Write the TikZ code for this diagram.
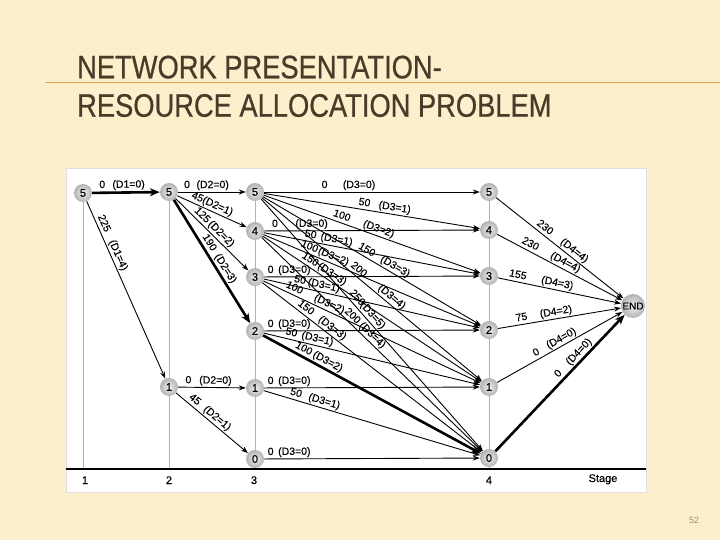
\documentclass[tikz,border=0pt]{standalone}
\usepackage{fontspec}
\setmainfont{Liberation Sans}
\newfontfamily\titlefont[FakeStretch=0.84,FakeBold=0.6]{Liberation Sans}
\newfontfamily\labfont[FakeBold=0.3]{Liberation Sans}
\usetikzlibrary{arrows.meta,shadings}
\definecolor{cream}{RGB}{252,240,204}
\definecolor{titlec}{RGB}{74,58,42}
\definecolor{rulec}{RGB}{226,168,78}
\definecolor{pagec}{RGB}{170,140,100}
\begin{document}
\begin{tikzpicture}[x=1pt,y=-1pt,
  st/.style={circle, shading=radial, inner color=gray!12, outer color=gray!60, minimum size=18pt, inner sep=0pt,
     font=\labfont\fontsize{11}{11}\selectfont},
  endst/.style={st, minimum size=24pt, font=\labfont\fontsize{10}{10}\selectfont},
  lab/.style={font=\labfont\fontsize{10.5}{10.5}\selectfont, sloped, above, inner sep=1pt,
     text height=7.5pt, text depth=2.5pt},
  ar/.style={-{Stealth[length=7pt,width=5pt]}, line width=0.9pt},
  thk/.style={-{Stealth[length=10pt,width=8pt]}, line width=2.6pt},
  guide/.style={gray!60, line width=0.5pt},
  axlab/.style={font=\labfont\fontsize{11}{11}\selectfont, anchor=base},
  ttl/.style={anchor=base west, inner sep=0pt, text=titlec, font=\titlefont\fontsize{32.5}{32.5}\selectfont}]
\useasboundingbox (0,0) rectangle (720,540);
\fill[cream] (0,0) rectangle (720,540);
% title
\draw[rulec, line width=1.3pt] (45,82.5) -- (720,82.5);
\node[ttl] (t1) at (77,78.3) {NETWORK PRESENTATION-};
\node[ttl] (t2) at (77,116.7) {RESOURCE ALLOCATION PROBLEM};
\node[font=\fontsize{9}{9}\selectfont, text=pagec] (pg) at (694,520) {52};
% panel
\fill[white] (66,168) rectangle (646,492);
\draw[gray!25, line width=0.5pt] (66,168) rectangle (646,492);
% guides
\draw[guide] (83,193) -- (83,469);
\draw[guide] (169,192) -- (169,469);
\draw[guide] (255,192) -- (255,469);
\draw[guide] (489,192) -- (489,469);
\draw[line width=1.5pt] (66,469) -- (646,469);
\node[axlab] (l1) at (85,484) {1};
\node[axlab] (l2) at (169,484) {2};
\node[axlab] (l3) at (254,484) {3};
\node[axlab] (l4) at (489,484) {4};
\node[axlab] (ls) at (603,482) {Stage};
% nodes
\node[st] (a5) at (83,193) {5};
\node[st] (b5) at (169,192) {5};
\node[st] (b1) at (169,387) {1};
\node[st] (c5) at (255,192) {5};
\node[st] (c4) at (255,231) {4};
\node[st] (c3) at (255,277) {3};
\node[st] (c2) at (255,331) {2};
\node[st] (c1) at (255,388) {1};
\node[st] (c0) at (255,459) {0};
\node[st] (d5) at (489,192) {5};
\node[st] (d4) at (489,230) {4};
\node[st] (d3) at (489,276) {3};
\node[st] (d2) at (489,330) {2};
\node[st] (d1) at (489,387) {1};
\node[st] (d0) at (489,458) {0};
\node[endst] (E) at (633,306) {END};
% stage 1
\draw[thk] (a5) -- node[lab,pos=.15]{0} node[lab,pos=.54]{(D1=0)} (b5);
\draw[ar] (a5) -- node[lab,pos=.14]{225} node[lab,pos=.32]{(D1=4)} (b1);
% stage 2
\draw[ar] (b5) -- node[lab,pos=.13]{0} node[lab,pos=.51]{(D2=0)} (c5);
\draw[ar] (b5) -- node[lab,pos=.25]{45} node[lab,pos=.54]{(D2=1)} (c4);
\draw[ar] (b5) -- node[lab,pos=.30]{125} node[lab,pos=.56]{(D2=2)} (c3);
\draw[thk] (b5) -- node[lab,pos=.38]{190} node[lab,pos=.59]{(D2=3)} (c2);
\draw[ar] (b1) -- node[lab,pos=.15]{0} node[lab,pos=.55]{(D2=0)} (c1);
\draw[ar] (b1) -- node[lab,pos=.20]{45} node[lab,pos=.51]{(D2=1)} (c0);
% stage 3 from 5
\draw[ar] (c5) -- node[lab,pos=.28]{0} node[lab,pos=.44]{(D3=0)} (d5);
\draw[ar] (c5) -- node[lab,pos=.46]{50} node[lab,pos=.60]{(D3=1)} (d4);
\draw[ar] (c5) -- node[lab,pos=.35]{100} node[lab,pos=.52]{(D3=2)} (d3);
\draw[ar] (c5) -- node[lab,pos=.46]{150} node[lab,pos=.59]{(D3=3)} (d2);
\draw[ar] (c5) -- node[lab,pos=.42]{200} node[lab,pos=.57]{(D3=4)} (d1);
\draw[ar] (c5) -- node[lab,pos=.41]{250} node[lab,pos=.48]{(D3=5)} (d0);
% from 4
\draw[ar] (c4) -- node[lab,pos=.05]{0} node[lab,pos=.22]{(D3=0)} (d4);
\draw[ar] (c4) -- node[lab,pos=.21]{50} node[lab,pos=.33]{(D3=1)} (d3);
\draw[ar] (c4) -- node[lab,pos=.20]{100} node[lab,pos=.31]{(D3=2)} (d2);
\draw[ar] (c4) -- node[lab,pos=.20]{150} node[lab,pos=.30]{(D3=3)} (d1);
\draw[ar] (c4) -- node[lab,pos=.39]{200} node[lab,pos=.48]{(D3=4)} (d0);
% from 3
\draw[ar] (c3) -- node[lab,pos=.03]{0} node[lab,pos=.14]{(D3=0)} (d3);
\draw[ar] (c3) -- node[lab,pos=.16]{50} node[lab,pos=.27]{(D3=1)} (d2);
\draw[ar] (c3) -- node[lab,pos=.13]{100} node[lab,pos=.29]{(D3=2)} (d1);
\draw[ar] (c3) -- node[lab,pos=.18]{150} node[lab,pos=.30]{(D3=3)} (d0);
% from 2
\draw[ar] (c2) -- node[lab,pos=.03]{0} node[lab,pos=.14]{(D3=0)} (d2);
\draw[ar] (c2) -- node[lab,pos=.12]{50} node[lab,pos=.24]{(D3=1)} (d1);
\draw[thk] (c2) -- node[lab,pos=.17]{100} node[lab,pos=.28]{(D3=2)} (d0);
% from 1
\draw[ar] (c1) -- node[lab,pos=.03]{0} node[lab,pos=.14]{(D3=0)} (d1);
\draw[ar] (c1) -- node[lab,pos=.14]{50} node[lab,pos=.27]{(D3=1)} (d0);
% from 0
\draw[ar] (c0) -- node[lab,pos=.03]{0} node[lab,pos=.14]{(D3=0)} (d0);
% stage 4
\draw[ar] (d5) -- node[lab,pos=.35]{230} node[lab,pos=.58]{(D4=4)} (E);
\draw[ar] (d4) -- node[lab,pos=.24]{230} node[lab,pos=.52]{(D4=4)} (E);
\draw[ar] (d3) -- node[lab,pos=.15]{155} node[lab,pos=.47]{(D4=3)} (E);
\draw[ar] (d2) -- node[lab,pos=.20]{75} node[lab,pos=.48]{(D4=2)} (E);
\draw[ar] (d1) -- node[lab,pos=.34]{0} node[lab,pos=.54]{(D4=0)} (E);
\draw[thk] (d0) -- node[lab,pos=.53]{0} node[lab,pos=.69]{(D4=0)} (E);
\end{tikzpicture}
\end{document}
